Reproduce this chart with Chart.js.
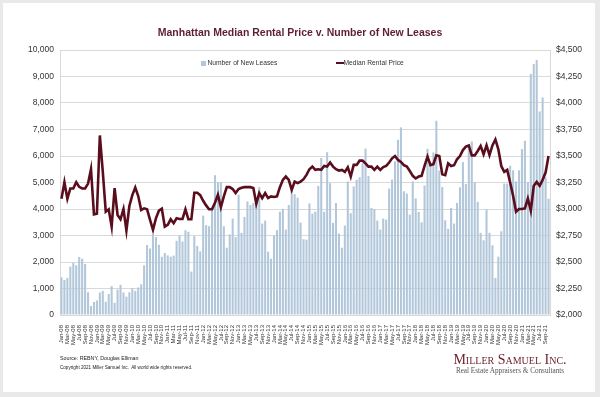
<!DOCTYPE html>
<html><head><meta charset="utf-8">
<script src="https://cdn.jsdelivr.net/npm/chart.js@4.4.0/dist/chart.umd.min.js"></script>
<style>
html,body{margin:0;padding:0;background:#e9e9e9;}
#wrap{position:relative;width:600px;height:397px;overflow:hidden;background:#e9e9e9;}
#card{position:absolute;left:3px;top:3px;width:592px;height:389px;background:#fff;}
#cv{position:absolute;left:0;top:0;}
.t{position:absolute;white-space:nowrap;line-height:1;transform:translateY(-50%);font-family:"Liberation Sans",Arial,sans-serif;color:#333;}
.s{font-family:"Liberation Serif","Times New Roman",serif;}
</style></head><body>
<div id="wrap">
<div id="card"></div>
<canvas id="cv" width="600" height="397"></canvas>
<div class="t" style="left:0;width:600px;text-align:center;top:32px;font-size:10.5px;font-weight:bold;color:#5e1f2f;">Manhattan Median Rental Price v. Number of New Leases</div>
<div style="position:absolute;left:201px;top:60.5px;width:5px;height:5px;background:#b2c7da;"></div>
<div class="t" style="left:207.5px;top:63px;font-size:6.7px;">Number of New Leases</div>
<div style="position:absolute;left:336px;top:61.8px;width:7.5px;height:2.6px;background:#5a0e1d;"></div>
<div class="t" style="left:343.5px;top:63px;font-size:6.7px;">Median Rental Price</div>
<div class="t" style="left:60px;top:359px;font-size:5.3px;color:#222;">Source: REBNY, Douglas Elliman</div>
<div class="t" style="left:60px;top:367.5px;font-size:4.6px;color:#222;">Copyright 2021 Miller Samuel Inc.&nbsp; All world wide rights reserved.</div>
<div class="t s" style="left:410px;width:200px;text-align:center;top:360px;font-size:14px;font-variant:small-caps;color:#6d1e2c;">Miller Samuel Inc.</div>
<div class="t s" style="left:410px;width:200px;text-align:center;top:372px;font-size:7.2px;color:#555;">Real Estate Appraisers &amp; Consultants</div>
</div>
<script>
const monthNames = ['Jan','Feb','Mar','Apr','May','Jun','Jul','Aug','Sep','Oct','Nov','Dec'];
const firstYear = 2008, monthCount = 166; // Jan-08 .. Oct-21
const categories = [];
for (let i = 0; i < monthCount; i++) {
  const y = firstYear + Math.floor(i / 12);
  categories.push(monthNames[i % 12] + '-' + String(y % 100).padStart(2, '0'));
}
const newLeases = [
 1425,1325,1400,1825,1960,1875,2190,2125,1925,860,340,490,
 550,850,910,500,790,1090,460,960,1140,850,690,860,
 1010,910,1040,1160,1875,2640,2510,3050,2940,2650,2200,2340,
 2250,2200,2240,2800,3000,2775,3200,3140,1640,2975,2610,2400,
 3750,3390,3350,4060,5275,5010,5010,3350,2540,3040,3640,2940,
 4540,3100,3700,4290,4150,4225,4350,4825,3450,3560,2390,2125,
 3000,3200,3900,4010,3225,4150,4725,4560,4425,3490,2860,2840,
 4210,3825,3900,4875,5925,3900,6140,4975,3475,4225,3075,2540,
 3375,5040,3840,4850,5100,5200,5725,6275,5250,4040,4000,3560,
 3225,3640,3600,4770,5110,5800,6610,7080,4670,4580,3790,5040,
 4400,3890,3500,4890,6270,5760,6135,7330,5450,4830,3575,3250,
 4040,3450,4230,4820,5770,4940,6290,6550,5020,4270,3100,2820,
 3980,3100,2630,1400,2200,3160,4960,4960,5630,5460,5040,5460,
 6260,6575,5010,9100,9470,9620,7680,8210,5200,4390
];
const medianRent = [
 3097,3253,3097,3194,3194,3253,3209,3194,3194,3240,3375,2950,
 2956,3694,3350,2975,2997,2834,3197,2944,2903,3000,2797,3028,
 3131,3203,3122,2990,3006,2997,2897,2803,2912,2984,3003,2834,
 2850,2903,2866,2912,2906,2906,2997,2903,2903,3153,3153,3131,
 3078,3034,2997,2997,3059,3134,3016,3119,3206,3206,3188,3150,
 3188,3200,3206,3206,3206,3197,3050,3150,3103,3150,3103,3119,
 3113,3119,3206,3275,3306,3275,3181,3259,3244,3259,3281,3322,
 3375,3400,3369,3375,3369,3406,3400,3438,3400,3375,3363,3369,
 3350,3394,3306,3416,3416,3456,3456,3431,3400,3400,3369,3400,
 3369,3395,3406,3438,3478,3500,3463,3444,3413,3400,3359,3313,
 3288,3306,3313,3406,3494,3413,3422,3506,3500,3328,3319,3431,
 3406,3413,3469,3500,3556,3588,3600,3506,3506,3547,3594,3516,
 3600,3509,3600,3656,3563,3406,3350,3369,3250,3125,2975,3000,
 3000,3006,3100,2984,3219,3256,3219,3275,3344,3500
];
const leaseTicks = {min: 0, max: 10000, step: 1000};
const rentTicks = {min: 2000, max: 4500, step: 250};

const barColor = '#b2c7da', lineColor = '#5a0e1d', gridColor = '#d9d9d9';
new Chart(document.getElementById('cv'), {
  data: {
    labels: categories,
    datasets: [
      {type: 'line', label: 'Median Rental Price', data: medianRent, yAxisID: 'y1',
       borderColor: lineColor, borderWidth: 2.6, pointRadius: 0, tension: 0, order: 0},
      {type: 'bar', label: 'Number of New Leases', data: newLeases, yAxisID: 'y',
       backgroundColor: barColor, barPercentage: 0.7, categoryPercentage: 1, order: 1}
    ]
  },
  options: {
    responsive: false, animation: false, devicePixelRatio: 1,
    layout: {padding: {top: 50, left: 0, right: 0, bottom: 0}},
    plugins: {legend: {display: false}, tooltip: {enabled: false}},
    scales: {
      x: {
        grid: {display: false}, border: {display: false},
        ticks: {autoSkip: false, maxRotation: 90, minRotation: 90, padding: 2,
          font: {size: 6, family: 'Liberation Sans'}, color: '#333',
          callback: (v, i) => (i % 2 === 0 ? categories[i] : '')},
        afterFit: s => { s.height = 82; }
      },
      y: {
        position: 'left', min: leaseTicks.min, max: leaseTicks.max,
        ticks: {stepSize: leaseTicks.step, padding: 6, font: {size: 8.5, family: 'Liberation Sans'}, color: '#333',
          callback: v => v.toLocaleString('en-US')},
        grid: {color: gridColor, drawTicks: false},
        border: {display: true, color: gridColor},
        afterFit: s => { s.width = 60; }
      },
      y1: {
        position: 'right', min: rentTicks.min, max: rentTicks.max,
        ticks: {stepSize: rentTicks.step, padding: 6, font: {size: 8.5, family: 'Liberation Sans'}, color: '#333',
          callback: v => '$' + v.toLocaleString('en-US')},
        grid: {display: false, drawTicks: false},
        border: {display: true, color: gridColor},
        afterFit: s => { s.width = 50; }
      }
    }
  }
});
</script>
</body></html>
